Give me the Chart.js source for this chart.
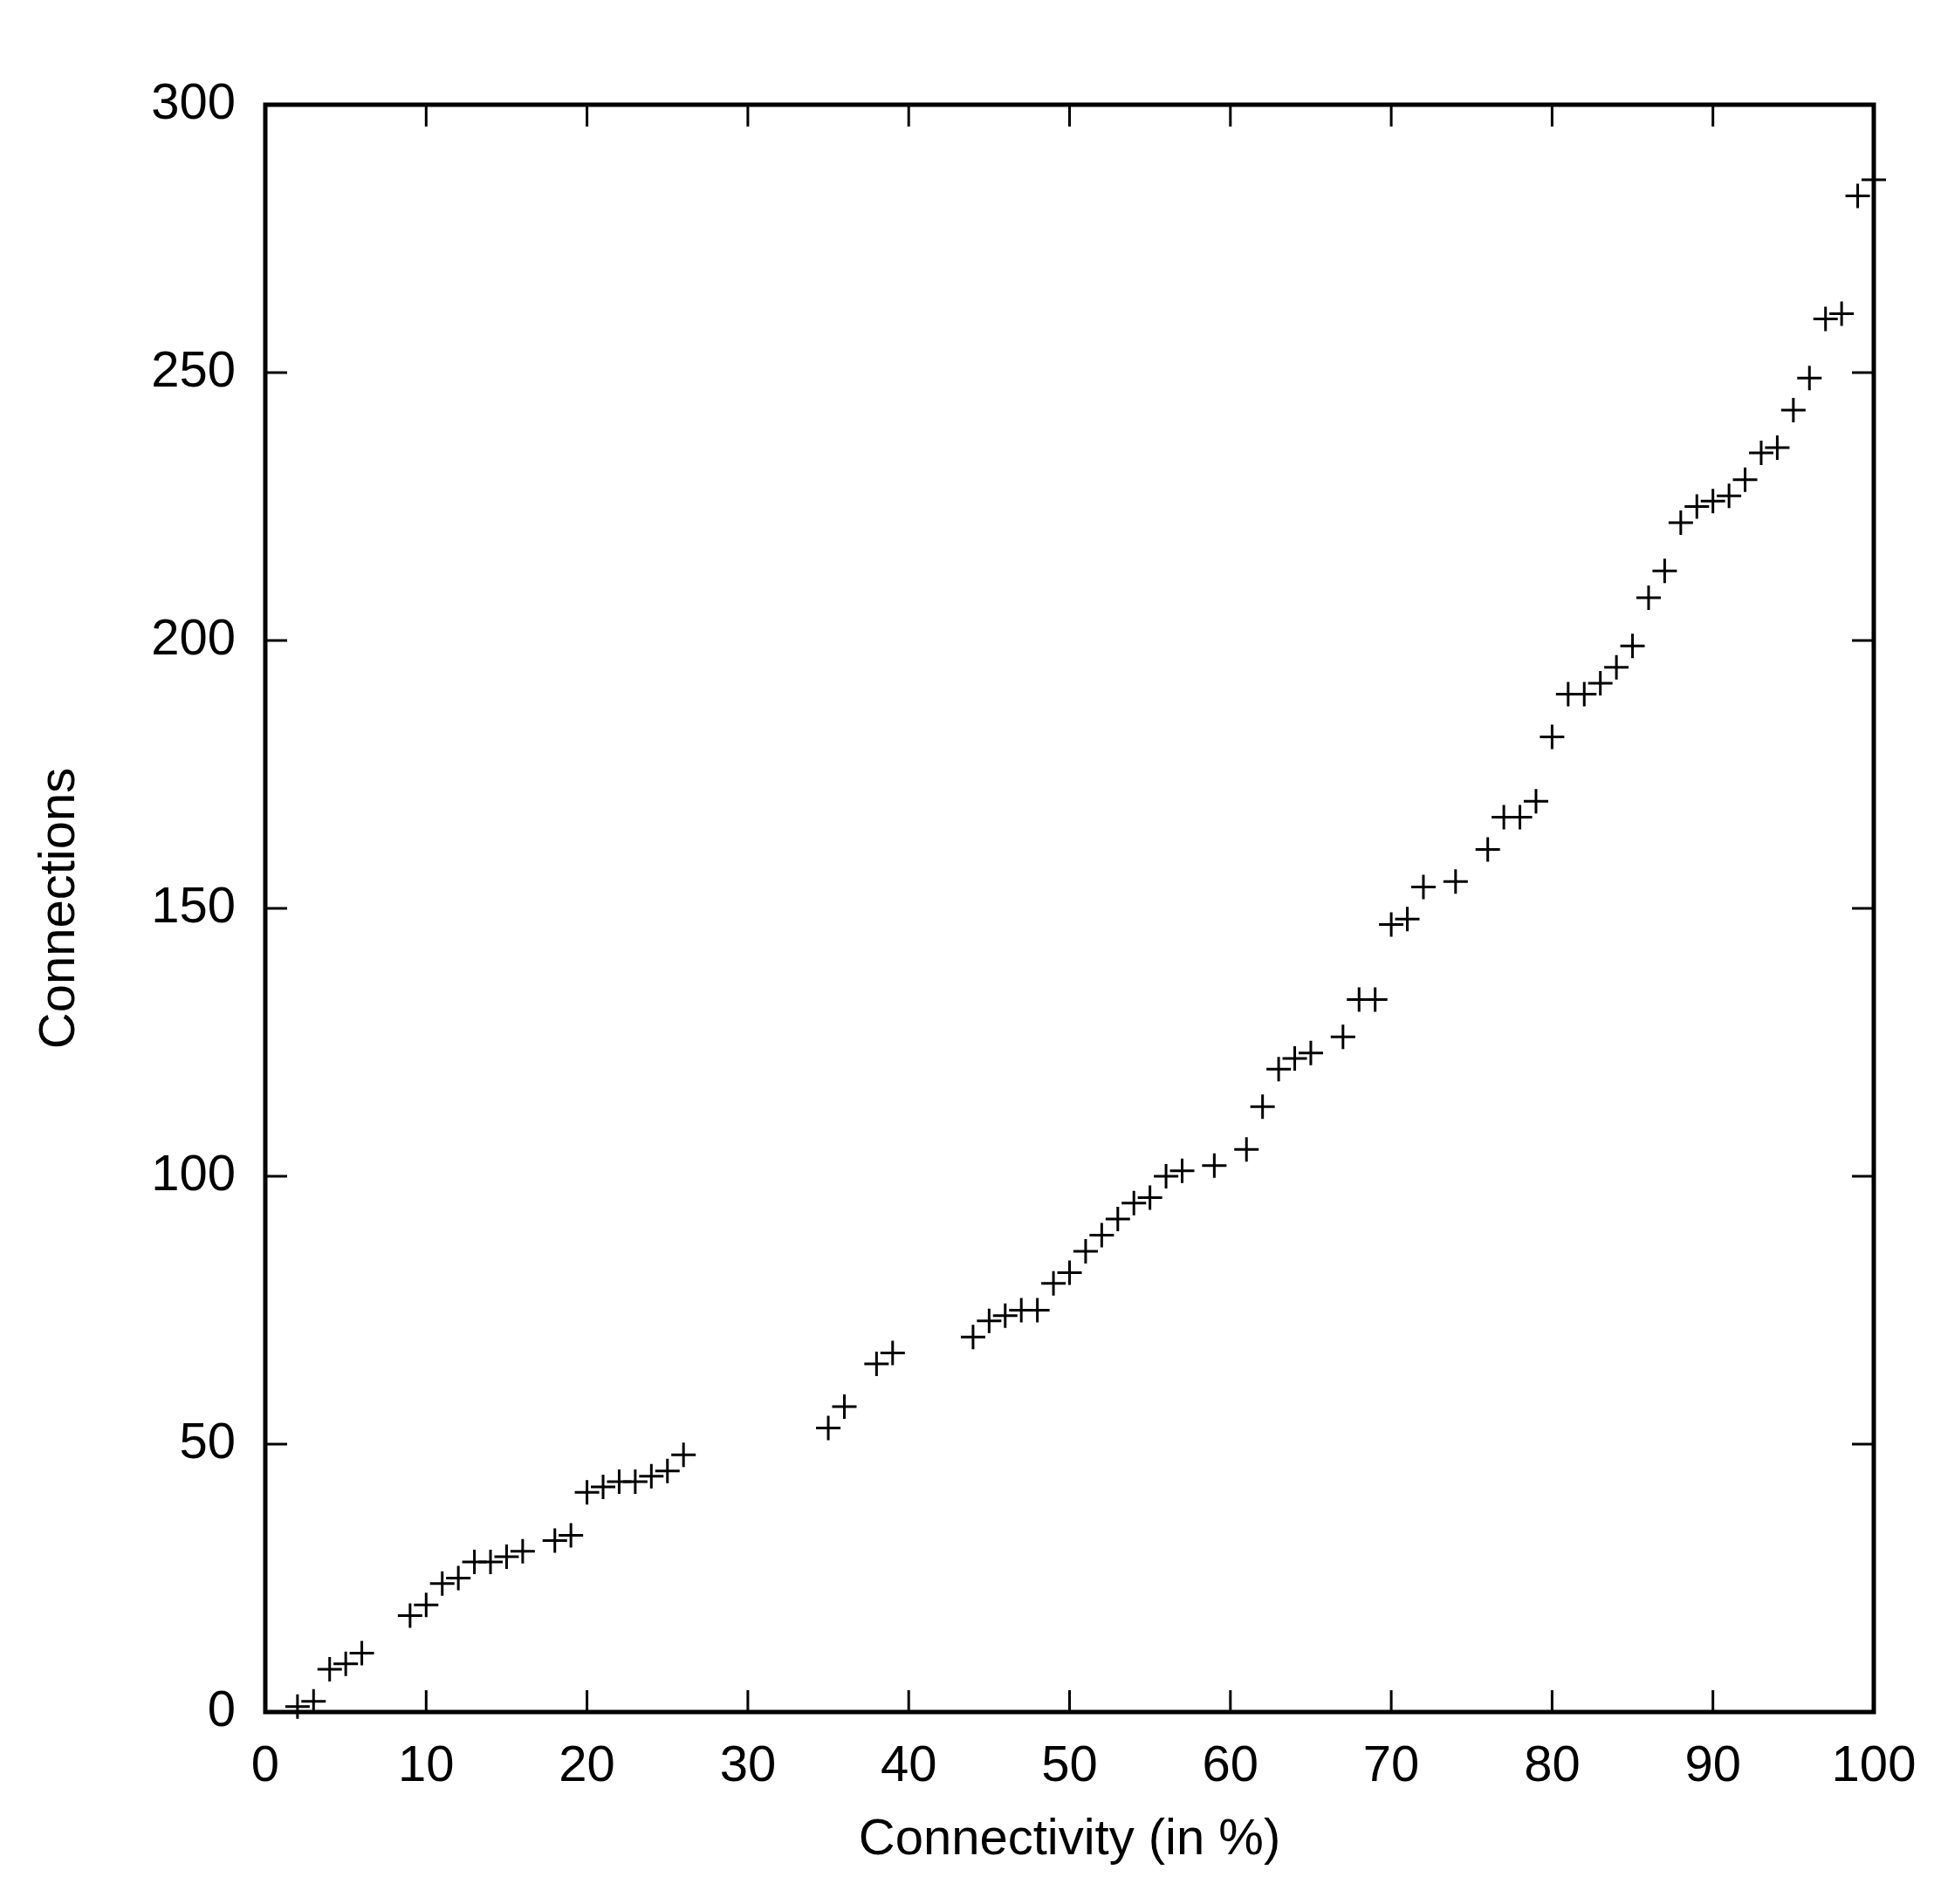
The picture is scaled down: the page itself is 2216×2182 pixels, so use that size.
<!DOCTYPE html>
<html>
<head>
<meta charset="utf-8">
<script src="https://cdn.jsdelivr.net/npm/chart.js@4.4.0/dist/chart.umd.min.js"></script>
<style>
  html, body { margin: 0; padding: 0; background: #fff; overflow: hidden; }
  #wrap { width: 2216px; height: 2182px; }
</style>
</head>
<body>
<div id="wrap"><canvas id="grafico"></canvas></div>
<script>
// Dados
const conectividade = [2, 3, 4, 5, 6, 9, 10, 11, 12, 13, 14, 15, 16, 18, 19, 20, 21, 22, 23, 24, 25, 26,
    35, 36, 38, 39, 44, 45, 46, 47, 48, 49, 50, 51, 52, 53, 54, 55, 56, 57, 59, 61, 62, 63, 64, 65,
    67, 68, 69, 70, 71, 72, 74, 76, 77, 78, 79, 80, 81, 82, 83, 84, 85, 86, 87, 88, 89, 90, 91, 92,
    93, 94, 95, 96, 97, 98, 99, 100];
const conexoes = [1, 2, 8, 9, 11, 18, 20, 24, 25, 28, 28, 29, 30, 32, 33, 41, 42, 43, 43, 44, 45, 48,
    53, 57, 65, 67, 70, 73, 74, 75, 75, 80, 82, 86, 89, 92, 95, 96, 100, 101, 102, 105, 113, 120, 122, 123,
    126, 133, 133, 147, 148, 154, 155, 161, 167, 167, 170, 182, 190, 190, 192, 195, 199, 208, 213, 222, 225, 226, 227, 230,
    235, 236, 243, 249, 260, 261, 283, 286];
const ticksX = [0, 10, 20, 30, 40, 50, 60, 70, 80, 90, 100];
const ticksY = [0, 50, 100, 150, 200, 250, 300];

const pontos = conectividade.map((x, i) => ({ x: x, y: conexoes[i] }));

const fonte = { family: 'Liberation Sans, Arial, sans-serif', size: 58 };

// Moldura e marcas internas no estilo gnuplot
const molduraPlugin = {
    id: 'moldura',
    afterDraw(chart) {
        const ctx = chart.ctx;
        const a = chart.chartArea;
        const sx = chart.scales.x;
        const sy = chart.scales.y;
        const tam = 25;
        ctx.save();
        ctx.strokeStyle = '#000';
        ctx.lineWidth = 3;
        ctx.beginPath();
        ticksX.forEach(v => {
            const px = sx.getPixelForValue(v);
            ctx.moveTo(px, a.bottom); ctx.lineTo(px, a.bottom - tam);
            ctx.moveTo(px, a.top); ctx.lineTo(px, a.top + tam);
        });
        ticksY.forEach(v => {
            const py = sy.getPixelForValue(v);
            ctx.moveTo(a.left, py); ctx.lineTo(a.left + tam, py);
            ctx.moveTo(a.right, py); ctx.lineTo(a.right - tam, py);
        });
        ctx.stroke();
        ctx.lineWidth = 5;
        ctx.strokeRect(a.left, a.top, a.right - a.left, a.bottom - a.top);
        ctx.restore();
    }
};

const ctx = document.getElementById('grafico').getContext('2d');
new Chart(ctx, {
    type: 'scatter',
    data: {
        datasets: [{
            label: 'Connections',
            data: pontos,
            pointStyle: 'cross',
            pointRadius: 14,
            pointHoverRadius: 14,
            borderWidth: 3,
            borderColor: '#000',
            backgroundColor: '#000',
            clip: false
        }]
    },
    options: {
        responsive: true,
        maintainAspectRatio: false,
        animation: false,
        events: [],
        layout: { padding: { left: 0, top: 120, right: 69, bottom: 0 } },
        plugins: {
            legend: { display: false },
            tooltip: { enabled: false }
        },
        scales: {
            x: {
                type: 'linear',
                min: 0,
                max: 100,
                afterBuildTicks: scale => { scale.ticks = ticksX.map(v => ({ value: v })); },
                afterFit: scale => { scale.height = 220; },
                grid: { display: false },
                border: { display: false },
                ticks: { color: '#000', font: fonte, padding: 20, maxRotation: 0 },
                title: {
                    display: true,
                    text: 'Connectivity (in %)',
                    color: '#000',
                    font: fonte,
                    padding: { top: 0, bottom: 38 }
                }
            },
            y: {
                type: 'linear',
                min: 0,
                max: 300,
                afterBuildTicks: scale => { scale.ticks = ticksY.map(v => ({ value: v })); },
                afterFit: scale => { scale.width = 304; },
                grid: { display: false },
                border: { display: false },
                ticks: { color: '#000', font: fonte, padding: 26 },
                title: {
                    display: true,
                    text: 'Connections',
                    color: '#000',
                    font: fonte,
                    padding: { top: 34, bottom: 0 }
                }
            }
        }
    },
    plugins: [molduraPlugin]
});
</script>
</body>
</html>
